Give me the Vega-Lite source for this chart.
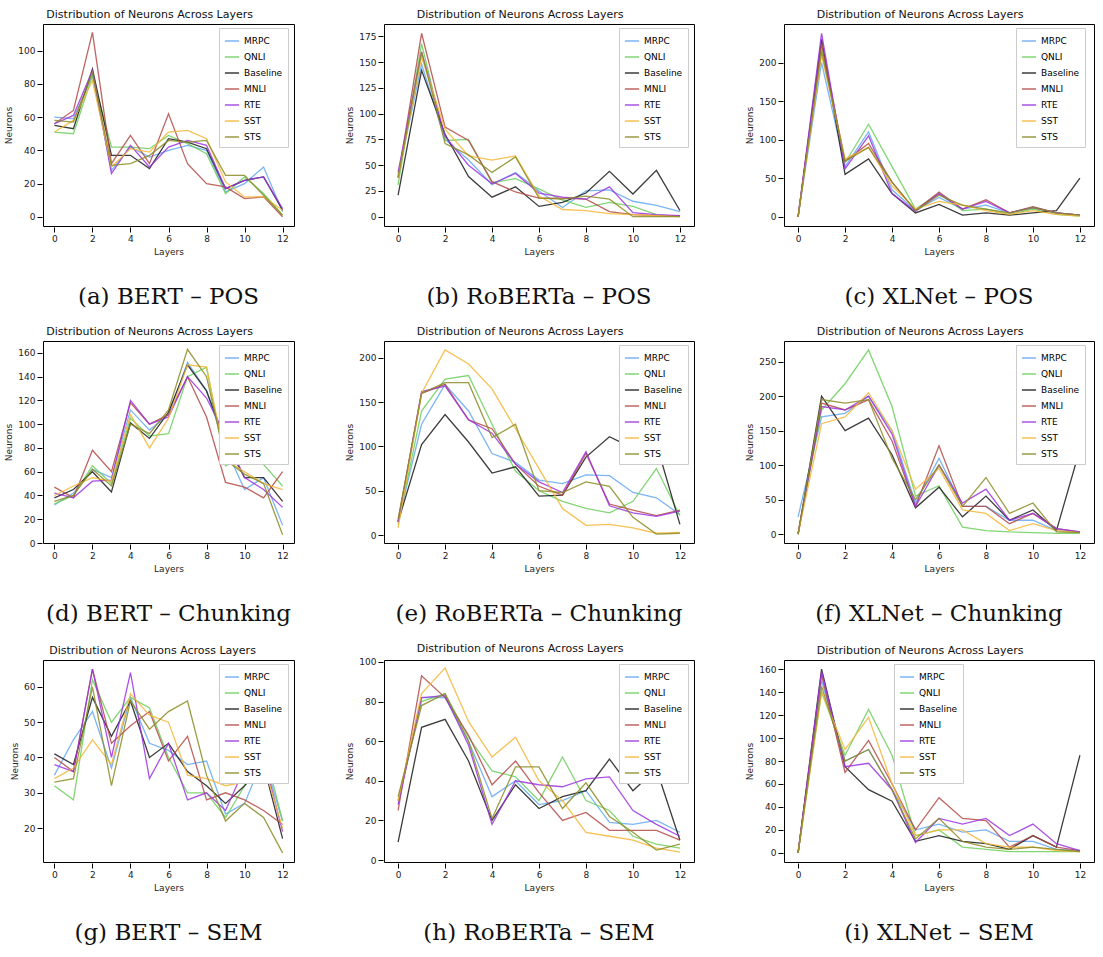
{"$schema":"https://vega.github.io/schema/vega-lite/v6.json","background":"white","padding":{"left":4,"top":8,"right":0,"bottom":0},
"config":{"font":"DejaVu Sans","view":{"stroke":"black","strokeWidth":1},"axis":{"grid":false,"labelFontSize":9,"titleFontSize":9,"titleFontWeight":"normal","domain":false,"tickColor":"black","labelColor":"#222","titleColor":"#222"},"title":{"fontSize":11,"fontWeight":"normal","color":"#111","offset":4,"anchor":"middle"},"legend":{"labelFontSize":9,"symbolType":"stroke","symbolSize":200,"strokeColor":"#ccc","padding":5,"fillColor":"white","rowPadding":3},"header":{"labelFont":"DejaVu Serif","labelFontSize":23,"labelColor":"#111"}},
"datasets":{"d":[
{"p":"a","s":"MRPC","x":0,"y":60},{"p":"a","s":"MRPC","x":1,"y":59},{"p":"a","s":"MRPC","x":2,"y":85},{"p":"a","s":"MRPC","x":3,"y":28},{"p":"a","s":"MRPC","x":4,"y":42},{"p":"a","s":"MRPC","x":5,"y":36},{"p":"a","s":"MRPC","x":6,"y":40},{"p":"a","s":"MRPC","x":7,"y":43},{"p":"a","s":"MRPC","x":8,"y":40},{"p":"a","s":"MRPC","x":9,"y":15},{"p":"a","s":"MRPC","x":10,"y":20},{"p":"a","s":"MRPC","x":11,"y":30},{"p":"a","s":"MRPC","x":12,"y":3},
{"p":"a","s":"QNLI","x":0,"y":51},{"p":"a","s":"QNLI","x":1,"y":50},{"p":"a","s":"QNLI","x":2,"y":85},{"p":"a","s":"QNLI","x":3,"y":42},{"p":"a","s":"QNLI","x":4,"y":42},{"p":"a","s":"QNLI","x":5,"y":41},{"p":"a","s":"QNLI","x":6,"y":49},{"p":"a","s":"QNLI","x":7,"y":44},{"p":"a","s":"QNLI","x":8,"y":38},{"p":"a","s":"QNLI","x":9,"y":14},{"p":"a","s":"QNLI","x":10,"y":24},{"p":"a","s":"QNLI","x":11,"y":14},{"p":"a","s":"QNLI","x":12,"y":1},
{"p":"a","s":"Baseline","x":0,"y":55},{"p":"a","s":"Baseline","x":1,"y":53},{"p":"a","s":"Baseline","x":2,"y":89},{"p":"a","s":"Baseline","x":3,"y":37},{"p":"a","s":"Baseline","x":4,"y":37},{"p":"a","s":"Baseline","x":5,"y":29},{"p":"a","s":"Baseline","x":6,"y":47},{"p":"a","s":"Baseline","x":7,"y":45},{"p":"a","s":"Baseline","x":8,"y":41},{"p":"a","s":"Baseline","x":9,"y":17},{"p":"a","s":"Baseline","x":10,"y":22},{"p":"a","s":"Baseline","x":11,"y":24},{"p":"a","s":"Baseline","x":12,"y":4},
{"p":"a","s":"MNLI","x":0,"y":56},{"p":"a","s":"MNLI","x":1,"y":64},{"p":"a","s":"MNLI","x":2,"y":111},{"p":"a","s":"MNLI","x":3,"y":32},{"p":"a","s":"MNLI","x":4,"y":49},{"p":"a","s":"MNLI","x":5,"y":32},{"p":"a","s":"MNLI","x":6,"y":62},{"p":"a","s":"MNLI","x":7,"y":32},{"p":"a","s":"MNLI","x":8,"y":20},{"p":"a","s":"MNLI","x":9,"y":18},{"p":"a","s":"MNLI","x":10,"y":11},{"p":"a","s":"MNLI","x":11,"y":12},{"p":"a","s":"MNLI","x":12,"y":0},
{"p":"a","s":"RTE","x":0,"y":56},{"p":"a","s":"RTE","x":1,"y":61},{"p":"a","s":"RTE","x":2,"y":88},{"p":"a","s":"RTE","x":3,"y":26},{"p":"a","s":"RTE","x":4,"y":43},{"p":"a","s":"RTE","x":5,"y":30},{"p":"a","s":"RTE","x":6,"y":42},{"p":"a","s":"RTE","x":7,"y":46},{"p":"a","s":"RTE","x":8,"y":43},{"p":"a","s":"RTE","x":9,"y":17},{"p":"a","s":"RTE","x":10,"y":22},{"p":"a","s":"RTE","x":11,"y":24},{"p":"a","s":"RTE","x":12,"y":5},
{"p":"a","s":"SST","x":0,"y":51},{"p":"a","s":"SST","x":1,"y":58},{"p":"a","s":"SST","x":2,"y":82},{"p":"a","s":"SST","x":3,"y":30},{"p":"a","s":"SST","x":4,"y":41},{"p":"a","s":"SST","x":5,"y":39},{"p":"a","s":"SST","x":6,"y":51},{"p":"a","s":"SST","x":7,"y":52},{"p":"a","s":"SST","x":8,"y":47},{"p":"a","s":"SST","x":9,"y":21},{"p":"a","s":"SST","x":10,"y":12},{"p":"a","s":"SST","x":11,"y":12},{"p":"a","s":"SST","x":12,"y":4},
{"p":"a","s":"STS","x":0,"y":58},{"p":"a","s":"STS","x":1,"y":57},{"p":"a","s":"STS","x":2,"y":87},{"p":"a","s":"STS","x":3,"y":31},{"p":"a","s":"STS","x":4,"y":32},{"p":"a","s":"STS","x":5,"y":37},{"p":"a","s":"STS","x":6,"y":46},{"p":"a","s":"STS","x":7,"y":45},{"p":"a","s":"STS","x":8,"y":46},{"p":"a","s":"STS","x":9,"y":25},{"p":"a","s":"STS","x":10,"y":25},{"p":"a","s":"STS","x":11,"y":13},{"p":"a","s":"STS","x":12,"y":1},
{"p":"b","s":"MRPC","x":0,"y":40},{"p":"b","s":"MRPC","x":1,"y":148},{"p":"b","s":"MRPC","x":2,"y":75},{"p":"b","s":"MRPC","x":3,"y":55},{"p":"b","s":"MRPC","x":4,"y":31},{"p":"b","s":"MRPC","x":5,"y":43},{"p":"b","s":"MRPC","x":6,"y":25},{"p":"b","s":"MRPC","x":7,"y":9},{"p":"b","s":"MRPC","x":8,"y":25},{"p":"b","s":"MRPC","x":9,"y":26},{"p":"b","s":"MRPC","x":10,"y":15},{"p":"b","s":"MRPC","x":11,"y":11},{"p":"b","s":"MRPC","x":12,"y":5},
{"p":"b","s":"QNLI","x":0,"y":31},{"p":"b","s":"QNLI","x":1,"y":168},{"p":"b","s":"QNLI","x":2,"y":74},{"p":"b","s":"QNLI","x":3,"y":75},{"p":"b","s":"QNLI","x":4,"y":33},{"p":"b","s":"QNLI","x":5,"y":37},{"p":"b","s":"QNLI","x":6,"y":27},{"p":"b","s":"QNLI","x":7,"y":16},{"p":"b","s":"QNLI","x":8,"y":9},{"p":"b","s":"QNLI","x":9,"y":14},{"p":"b","s":"QNLI","x":10,"y":10},{"p":"b","s":"QNLI","x":11,"y":2},{"p":"b","s":"QNLI","x":12,"y":0},
{"p":"b","s":"Baseline","x":0,"y":21},{"p":"b","s":"Baseline","x":1,"y":142},{"p":"b","s":"Baseline","x":2,"y":80},{"p":"b","s":"Baseline","x":3,"y":39},{"p":"b","s":"Baseline","x":4,"y":19},{"p":"b","s":"Baseline","x":5,"y":29},{"p":"b","s":"Baseline","x":6,"y":10},{"p":"b","s":"Baseline","x":7,"y":14},{"p":"b","s":"Baseline","x":8,"y":23},{"p":"b","s":"Baseline","x":9,"y":44},{"p":"b","s":"Baseline","x":10,"y":22},{"p":"b","s":"Baseline","x":11,"y":45},{"p":"b","s":"Baseline","x":12,"y":6},
{"p":"b","s":"MNLI","x":0,"y":38},{"p":"b","s":"MNLI","x":1,"y":178},{"p":"b","s":"MNLI","x":2,"y":87},{"p":"b","s":"MNLI","x":3,"y":74},{"p":"b","s":"MNLI","x":4,"y":34},{"p":"b","s":"MNLI","x":5,"y":24},{"p":"b","s":"MNLI","x":6,"y":18},{"p":"b","s":"MNLI","x":7,"y":18},{"p":"b","s":"MNLI","x":8,"y":17},{"p":"b","s":"MNLI","x":9,"y":5},{"p":"b","s":"MNLI","x":10,"y":2},{"p":"b","s":"MNLI","x":11,"y":1},{"p":"b","s":"MNLI","x":12,"y":1},
{"p":"b","s":"RTE","x":0,"y":43},{"p":"b","s":"RTE","x":1,"y":160},{"p":"b","s":"RTE","x":2,"y":78},{"p":"b","s":"RTE","x":3,"y":50},{"p":"b","s":"RTE","x":4,"y":32},{"p":"b","s":"RTE","x":5,"y":42},{"p":"b","s":"RTE","x":6,"y":23},{"p":"b","s":"RTE","x":7,"y":19},{"p":"b","s":"RTE","x":8,"y":17},{"p":"b","s":"RTE","x":9,"y":29},{"p":"b","s":"RTE","x":10,"y":4},{"p":"b","s":"RTE","x":11,"y":2},{"p":"b","s":"RTE","x":12,"y":1},
{"p":"b","s":"SST","x":0,"y":38},{"p":"b","s":"SST","x":1,"y":155},{"p":"b","s":"SST","x":2,"y":85},{"p":"b","s":"SST","x":3,"y":59},{"p":"b","s":"SST","x":4,"y":55},{"p":"b","s":"SST","x":5,"y":59},{"p":"b","s":"SST","x":6,"y":20},{"p":"b","s":"SST","x":7,"y":7},{"p":"b","s":"SST","x":8,"y":6},{"p":"b","s":"SST","x":9,"y":3},{"p":"b","s":"SST","x":10,"y":2},{"p":"b","s":"SST","x":11,"y":1},{"p":"b","s":"SST","x":12,"y":0},
{"p":"b","s":"STS","x":0,"y":38},{"p":"b","s":"STS","x":1,"y":160},{"p":"b","s":"STS","x":2,"y":71},{"p":"b","s":"STS","x":3,"y":60},{"p":"b","s":"STS","x":4,"y":43},{"p":"b","s":"STS","x":5,"y":58},{"p":"b","s":"STS","x":6,"y":18},{"p":"b","s":"STS","x":7,"y":17},{"p":"b","s":"STS","x":8,"y":20},{"p":"b","s":"STS","x":9,"y":17},{"p":"b","s":"STS","x":10,"y":0},{"p":"b","s":"STS","x":11,"y":0},{"p":"b","s":"STS","x":12,"y":0},
{"p":"c","s":"MRPC","x":0,"y":0},{"p":"c","s":"MRPC","x":1,"y":200},{"p":"c","s":"MRPC","x":2,"y":65},{"p":"c","s":"MRPC","x":3,"y":110},{"p":"c","s":"MRPC","x":4,"y":35},{"p":"c","s":"MRPC","x":5,"y":8},{"p":"c","s":"MRPC","x":6,"y":25},{"p":"c","s":"MRPC","x":7,"y":10},{"p":"c","s":"MRPC","x":8,"y":15},{"p":"c","s":"MRPC","x":9,"y":5},{"p":"c","s":"MRPC","x":10,"y":12},{"p":"c","s":"MRPC","x":11,"y":5},{"p":"c","s":"MRPC","x":12,"y":2},
{"p":"c","s":"QNLI","x":0,"y":0},{"p":"c","s":"QNLI","x":1,"y":220},{"p":"c","s":"QNLI","x":2,"y":70},{"p":"c","s":"QNLI","x":3,"y":120},{"p":"c","s":"QNLI","x":4,"y":65},{"p":"c","s":"QNLI","x":5,"y":10},{"p":"c","s":"QNLI","x":6,"y":30},{"p":"c","s":"QNLI","x":7,"y":8},{"p":"c","s":"QNLI","x":8,"y":10},{"p":"c","s":"QNLI","x":9,"y":3},{"p":"c","s":"QNLI","x":10,"y":10},{"p":"c","s":"QNLI","x":11,"y":3},{"p":"c","s":"QNLI","x":12,"y":1},
{"p":"c","s":"Baseline","x":0,"y":0},{"p":"c","s":"Baseline","x":1,"y":230},{"p":"c","s":"Baseline","x":2,"y":55},{"p":"c","s":"Baseline","x":3,"y":75},{"p":"c","s":"Baseline","x":4,"y":30},{"p":"c","s":"Baseline","x":5,"y":5},{"p":"c","s":"Baseline","x":6,"y":16},{"p":"c","s":"Baseline","x":7,"y":2},{"p":"c","s":"Baseline","x":8,"y":5},{"p":"c","s":"Baseline","x":9,"y":2},{"p":"c","s":"Baseline","x":10,"y":5},{"p":"c","s":"Baseline","x":11,"y":8},{"p":"c","s":"Baseline","x":12,"y":50},
{"p":"c","s":"MNLI","x":0,"y":0},{"p":"c","s":"MNLI","x":1,"y":225},{"p":"c","s":"MNLI","x":2,"y":72},{"p":"c","s":"MNLI","x":3,"y":95},{"p":"c","s":"MNLI","x":4,"y":45},{"p":"c","s":"MNLI","x":5,"y":8},{"p":"c","s":"MNLI","x":6,"y":32},{"p":"c","s":"MNLI","x":7,"y":10},{"p":"c","s":"MNLI","x":8,"y":22},{"p":"c","s":"MNLI","x":9,"y":5},{"p":"c","s":"MNLI","x":10,"y":13},{"p":"c","s":"MNLI","x":11,"y":5},{"p":"c","s":"MNLI","x":12,"y":2},
{"p":"c","s":"RTE","x":0,"y":0},{"p":"c","s":"RTE","x":1,"y":238},{"p":"c","s":"RTE","x":2,"y":62},{"p":"c","s":"RTE","x":3,"y":105},{"p":"c","s":"RTE","x":4,"y":30},{"p":"c","s":"RTE","x":5,"y":7},{"p":"c","s":"RTE","x":6,"y":30},{"p":"c","s":"RTE","x":7,"y":10},{"p":"c","s":"RTE","x":8,"y":20},{"p":"c","s":"RTE","x":9,"y":5},{"p":"c","s":"RTE","x":10,"y":12},{"p":"c","s":"RTE","x":11,"y":5},{"p":"c","s":"RTE","x":12,"y":2},
{"p":"c","s":"SST","x":0,"y":0},{"p":"c","s":"SST","x":1,"y":210},{"p":"c","s":"SST","x":2,"y":75},{"p":"c","s":"SST","x":3,"y":90},{"p":"c","s":"SST","x":4,"y":40},{"p":"c","s":"SST","x":5,"y":10},{"p":"c","s":"SST","x":6,"y":20},{"p":"c","s":"SST","x":7,"y":15},{"p":"c","s":"SST","x":8,"y":8},{"p":"c","s":"SST","x":9,"y":3},{"p":"c","s":"SST","x":10,"y":8},{"p":"c","s":"SST","x":11,"y":3},{"p":"c","s":"SST","x":12,"y":1},
{"p":"c","s":"STS","x":0,"y":0},{"p":"c","s":"STS","x":1,"y":215},{"p":"c","s":"STS","x":2,"y":72},{"p":"c","s":"STS","x":3,"y":90},{"p":"c","s":"STS","x":4,"y":45},{"p":"c","s":"STS","x":5,"y":8},{"p":"c","s":"STS","x":6,"y":28},{"p":"c","s":"STS","x":7,"y":15},{"p":"c","s":"STS","x":8,"y":10},{"p":"c","s":"STS","x":9,"y":5},{"p":"c","s":"STS","x":10,"y":12},{"p":"c","s":"STS","x":11,"y":5},{"p":"c","s":"STS","x":12,"y":2},
{"p":"d","s":"MRPC","x":0,"y":32},{"p":"d","s":"MRPC","x":1,"y":42},{"p":"d","s":"MRPC","x":2,"y":62},{"p":"d","s":"MRPC","x":3,"y":55},{"p":"d","s":"MRPC","x":4,"y":112},{"p":"d","s":"MRPC","x":5,"y":95},{"p":"d","s":"MRPC","x":6,"y":108},{"p":"d","s":"MRPC","x":7,"y":152},{"p":"d","s":"MRPC","x":8,"y":128},{"p":"d","s":"MRPC","x":9,"y":80},{"p":"d","s":"MRPC","x":10,"y":45},{"p":"d","s":"MRPC","x":11,"y":55},{"p":"d","s":"MRPC","x":12,"y":15},
{"p":"d","s":"QNLI","x":0,"y":33},{"p":"d","s":"QNLI","x":1,"y":40},{"p":"d","s":"QNLI","x":2,"y":65},{"p":"d","s":"QNLI","x":3,"y":50},{"p":"d","s":"QNLI","x":4,"y":105},{"p":"d","s":"QNLI","x":5,"y":90},{"p":"d","s":"QNLI","x":6,"y":92},{"p":"d","s":"QNLI","x":7,"y":140},{"p":"d","s":"QNLI","x":8,"y":148},{"p":"d","s":"QNLI","x":9,"y":65},{"p":"d","s":"QNLI","x":10,"y":72},{"p":"d","s":"QNLI","x":11,"y":66},{"p":"d","s":"QNLI","x":12,"y":48},
{"p":"d","s":"Baseline","x":0,"y":38},{"p":"d","s":"Baseline","x":1,"y":45},{"p":"d","s":"Baseline","x":2,"y":60},{"p":"d","s":"Baseline","x":3,"y":43},{"p":"d","s":"Baseline","x":4,"y":101},{"p":"d","s":"Baseline","x":5,"y":88},{"p":"d","s":"Baseline","x":6,"y":110},{"p":"d","s":"Baseline","x":7,"y":150},{"p":"d","s":"Baseline","x":8,"y":128},{"p":"d","s":"Baseline","x":9,"y":85},{"p":"d","s":"Baseline","x":10,"y":55},{"p":"d","s":"Baseline","x":11,"y":55},{"p":"d","s":"Baseline","x":12,"y":35},
{"p":"d","s":"MNLI","x":0,"y":47},{"p":"d","s":"MNLI","x":1,"y":38},{"p":"d","s":"MNLI","x":2,"y":78},{"p":"d","s":"MNLI","x":3,"y":60},{"p":"d","s":"MNLI","x":4,"y":118},{"p":"d","s":"MNLI","x":5,"y":100},{"p":"d","s":"MNLI","x":6,"y":108},{"p":"d","s":"MNLI","x":7,"y":140},{"p":"d","s":"MNLI","x":8,"y":106},{"p":"d","s":"MNLI","x":9,"y":51},{"p":"d","s":"MNLI","x":10,"y":47},{"p":"d","s":"MNLI","x":11,"y":38},{"p":"d","s":"MNLI","x":12,"y":60},
{"p":"d","s":"RTE","x":0,"y":42},{"p":"d","s":"RTE","x":1,"y":38},{"p":"d","s":"RTE","x":2,"y":52},{"p":"d","s":"RTE","x":3,"y":53},{"p":"d","s":"RTE","x":4,"y":120},{"p":"d","s":"RTE","x":5,"y":100},{"p":"d","s":"RTE","x":6,"y":106},{"p":"d","s":"RTE","x":7,"y":140},{"p":"d","s":"RTE","x":8,"y":122},{"p":"d","s":"RTE","x":9,"y":90},{"p":"d","s":"RTE","x":10,"y":55},{"p":"d","s":"RTE","x":11,"y":45},{"p":"d","s":"RTE","x":12,"y":30},
{"p":"d","s":"SST","x":0,"y":40},{"p":"d","s":"SST","x":1,"y":48},{"p":"d","s":"SST","x":2,"y":55},{"p":"d","s":"SST","x":3,"y":52},{"p":"d","s":"SST","x":4,"y":108},{"p":"d","s":"SST","x":5,"y":80},{"p":"d","s":"SST","x":6,"y":105},{"p":"d","s":"SST","x":7,"y":150},{"p":"d","s":"SST","x":8,"y":148},{"p":"d","s":"SST","x":9,"y":70},{"p":"d","s":"SST","x":10,"y":60},{"p":"d","s":"SST","x":11,"y":50},{"p":"d","s":"SST","x":12,"y":45},
{"p":"d","s":"STS","x":0,"y":35},{"p":"d","s":"STS","x":1,"y":40},{"p":"d","s":"STS","x":2,"y":62},{"p":"d","s":"STS","x":3,"y":48},{"p":"d","s":"STS","x":4,"y":100},{"p":"d","s":"STS","x":5,"y":92},{"p":"d","s":"STS","x":6,"y":112},{"p":"d","s":"STS","x":7,"y":163},{"p":"d","s":"STS","x":8,"y":140},{"p":"d","s":"STS","x":9,"y":70},{"p":"d","s":"STS","x":10,"y":58},{"p":"d","s":"STS","x":11,"y":50},{"p":"d","s":"STS","x":12,"y":7},
{"p":"e","s":"MRPC","x":0,"y":15},{"p":"e","s":"MRPC","x":1,"y":125},{"p":"e","s":"MRPC","x":2,"y":170},{"p":"e","s":"MRPC","x":3,"y":140},{"p":"e","s":"MRPC","x":4,"y":92},{"p":"e","s":"MRPC","x":5,"y":82},{"p":"e","s":"MRPC","x":6,"y":62},{"p":"e","s":"MRPC","x":7,"y":58},{"p":"e","s":"MRPC","x":8,"y":68},{"p":"e","s":"MRPC","x":9,"y":67},{"p":"e","s":"MRPC","x":10,"y":48},{"p":"e","s":"MRPC","x":11,"y":42},{"p":"e","s":"MRPC","x":12,"y":23},
{"p":"e","s":"QNLI","x":0,"y":12},{"p":"e","s":"QNLI","x":1,"y":140},{"p":"e","s":"QNLI","x":2,"y":176},{"p":"e","s":"QNLI","x":3,"y":180},{"p":"e","s":"QNLI","x":4,"y":125},{"p":"e","s":"QNLI","x":5,"y":72},{"p":"e","s":"QNLI","x":6,"y":50},{"p":"e","s":"QNLI","x":7,"y":38},{"p":"e","s":"QNLI","x":8,"y":30},{"p":"e","s":"QNLI","x":9,"y":25},{"p":"e","s":"QNLI","x":10,"y":38},{"p":"e","s":"QNLI","x":11,"y":75},{"p":"e","s":"QNLI","x":12,"y":22},
{"p":"e","s":"Baseline","x":0,"y":15},{"p":"e","s":"Baseline","x":1,"y":102},{"p":"e","s":"Baseline","x":2,"y":136},{"p":"e","s":"Baseline","x":3,"y":105},{"p":"e","s":"Baseline","x":4,"y":70},{"p":"e","s":"Baseline","x":5,"y":77},{"p":"e","s":"Baseline","x":6,"y":44},{"p":"e","s":"Baseline","x":7,"y":45},{"p":"e","s":"Baseline","x":8,"y":88},{"p":"e","s":"Baseline","x":9,"y":111},{"p":"e","s":"Baseline","x":10,"y":98},{"p":"e","s":"Baseline","x":11,"y":103},{"p":"e","s":"Baseline","x":12,"y":12},
{"p":"e","s":"MNLI","x":0,"y":15},{"p":"e","s":"MNLI","x":1,"y":160},{"p":"e","s":"MNLI","x":2,"y":170},{"p":"e","s":"MNLI","x":3,"y":130},{"p":"e","s":"MNLI","x":4,"y":120},{"p":"e","s":"MNLI","x":5,"y":80},{"p":"e","s":"MNLI","x":6,"y":55},{"p":"e","s":"MNLI","x":7,"y":45},{"p":"e","s":"MNLI","x":8,"y":92},{"p":"e","s":"MNLI","x":9,"y":35},{"p":"e","s":"MNLI","x":10,"y":28},{"p":"e","s":"MNLI","x":11,"y":22},{"p":"e","s":"MNLI","x":12,"y":28},
{"p":"e","s":"RTE","x":0,"y":15},{"p":"e","s":"RTE","x":1,"y":162},{"p":"e","s":"RTE","x":2,"y":168},{"p":"e","s":"RTE","x":3,"y":130},{"p":"e","s":"RTE","x":4,"y":115},{"p":"e","s":"RTE","x":5,"y":80},{"p":"e","s":"RTE","x":6,"y":60},{"p":"e","s":"RTE","x":7,"y":48},{"p":"e","s":"RTE","x":8,"y":94},{"p":"e","s":"RTE","x":9,"y":33},{"p":"e","s":"RTE","x":10,"y":25},{"p":"e","s":"RTE","x":11,"y":21},{"p":"e","s":"RTE","x":12,"y":27},
{"p":"e","s":"SST","x":0,"y":8},{"p":"e","s":"SST","x":1,"y":160},{"p":"e","s":"SST","x":2,"y":209},{"p":"e","s":"SST","x":3,"y":193},{"p":"e","s":"SST","x":4,"y":165},{"p":"e","s":"SST","x":5,"y":120},{"p":"e","s":"SST","x":6,"y":75},{"p":"e","s":"SST","x":7,"y":30},{"p":"e","s":"SST","x":8,"y":11},{"p":"e","s":"SST","x":9,"y":12},{"p":"e","s":"SST","x":10,"y":8},{"p":"e","s":"SST","x":11,"y":2},{"p":"e","s":"SST","x":12,"y":3},
{"p":"e","s":"STS","x":0,"y":18},{"p":"e","s":"STS","x":1,"y":160},{"p":"e","s":"STS","x":2,"y":172},{"p":"e","s":"STS","x":3,"y":172},{"p":"e","s":"STS","x":4,"y":110},{"p":"e","s":"STS","x":5,"y":125},{"p":"e","s":"STS","x":6,"y":50},{"p":"e","s":"STS","x":7,"y":48},{"p":"e","s":"STS","x":8,"y":60},{"p":"e","s":"STS","x":9,"y":55},{"p":"e","s":"STS","x":10,"y":20},{"p":"e","s":"STS","x":11,"y":1},{"p":"e","s":"STS","x":12,"y":2},
{"p":"f","s":"MRPC","x":0,"y":25},{"p":"f","s":"MRPC","x":1,"y":170},{"p":"f","s":"MRPC","x":2,"y":175},{"p":"f","s":"MRPC","x":3,"y":200},{"p":"f","s":"MRPC","x":4,"y":150},{"p":"f","s":"MRPC","x":5,"y":45},{"p":"f","s":"MRPC","x":6,"y":110},{"p":"f","s":"MRPC","x":7,"y":40},{"p":"f","s":"MRPC","x":8,"y":40},{"p":"f","s":"MRPC","x":9,"y":20},{"p":"f","s":"MRPC","x":10,"y":20},{"p":"f","s":"MRPC","x":11,"y":5},{"p":"f","s":"MRPC","x":12,"y":3},
{"p":"f","s":"QNLI","x":0,"y":0},{"p":"f","s":"QNLI","x":1,"y":180},{"p":"f","s":"QNLI","x":2,"y":218},{"p":"f","s":"QNLI","x":3,"y":267},{"p":"f","s":"QNLI","x":4,"y":185},{"p":"f","s":"QNLI","x":5,"y":55},{"p":"f","s":"QNLI","x":6,"y":70},{"p":"f","s":"QNLI","x":7,"y":10},{"p":"f","s":"QNLI","x":8,"y":5},{"p":"f","s":"QNLI","x":9,"y":3},{"p":"f","s":"QNLI","x":10,"y":2},{"p":"f","s":"QNLI","x":11,"y":1},{"p":"f","s":"QNLI","x":12,"y":1},
{"p":"f","s":"Baseline","x":0,"y":0},{"p":"f","s":"Baseline","x":1,"y":200},{"p":"f","s":"Baseline","x":2,"y":150},{"p":"f","s":"Baseline","x":3,"y":168},{"p":"f","s":"Baseline","x":4,"y":115},{"p":"f","s":"Baseline","x":5,"y":38},{"p":"f","s":"Baseline","x":6,"y":68},{"p":"f","s":"Baseline","x":7,"y":25},{"p":"f","s":"Baseline","x":8,"y":55},{"p":"f","s":"Baseline","x":9,"y":20},{"p":"f","s":"Baseline","x":10,"y":35},{"p":"f","s":"Baseline","x":11,"y":5},{"p":"f","s":"Baseline","x":12,"y":123},
{"p":"f","s":"MNLI","x":0,"y":0},{"p":"f","s":"MNLI","x":1,"y":190},{"p":"f","s":"MNLI","x":2,"y":180},{"p":"f","s":"MNLI","x":3,"y":195},{"p":"f","s":"MNLI","x":4,"y":135},{"p":"f","s":"MNLI","x":5,"y":40},{"p":"f","s":"MNLI","x":6,"y":128},{"p":"f","s":"MNLI","x":7,"y":40},{"p":"f","s":"MNLI","x":8,"y":40},{"p":"f","s":"MNLI","x":9,"y":15},{"p":"f","s":"MNLI","x":10,"y":30},{"p":"f","s":"MNLI","x":11,"y":8},{"p":"f","s":"MNLI","x":12,"y":3},
{"p":"f","s":"RTE","x":0,"y":0},{"p":"f","s":"RTE","x":1,"y":185},{"p":"f","s":"RTE","x":2,"y":180},{"p":"f","s":"RTE","x":3,"y":200},{"p":"f","s":"RTE","x":4,"y":145},{"p":"f","s":"RTE","x":5,"y":40},{"p":"f","s":"RTE","x":6,"y":100},{"p":"f","s":"RTE","x":7,"y":45},{"p":"f","s":"RTE","x":8,"y":65},{"p":"f","s":"RTE","x":9,"y":20},{"p":"f","s":"RTE","x":10,"y":30},{"p":"f","s":"RTE","x":11,"y":8},{"p":"f","s":"RTE","x":12,"y":3},
{"p":"f","s":"SST","x":0,"y":0},{"p":"f","s":"SST","x":1,"y":160},{"p":"f","s":"SST","x":2,"y":170},{"p":"f","s":"SST","x":3,"y":205},{"p":"f","s":"SST","x":4,"y":150},{"p":"f","s":"SST","x":5,"y":65},{"p":"f","s":"SST","x":6,"y":95},{"p":"f","s":"SST","x":7,"y":35},{"p":"f","s":"SST","x":8,"y":30},{"p":"f","s":"SST","x":9,"y":5},{"p":"f","s":"SST","x":10,"y":15},{"p":"f","s":"SST","x":11,"y":5},{"p":"f","s":"SST","x":12,"y":2},
{"p":"f","s":"STS","x":0,"y":0},{"p":"f","s":"STS","x":1,"y":195},{"p":"f","s":"STS","x":2,"y":190},{"p":"f","s":"STS","x":3,"y":195},{"p":"f","s":"STS","x":4,"y":110},{"p":"f","s":"STS","x":5,"y":50},{"p":"f","s":"STS","x":6,"y":100},{"p":"f","s":"STS","x":7,"y":40},{"p":"f","s":"STS","x":8,"y":82},{"p":"f","s":"STS","x":9,"y":30},{"p":"f","s":"STS","x":10,"y":45},{"p":"f","s":"STS","x":11,"y":3},{"p":"f","s":"STS","x":12,"y":2},
{"p":"g","s":"MRPC","x":0,"y":35},{"p":"g","s":"MRPC","x":1,"y":45},{"p":"g","s":"MRPC","x":2,"y":53},{"p":"g","s":"MRPC","x":3,"y":37},{"p":"g","s":"MRPC","x":4,"y":57},{"p":"g","s":"MRPC","x":5,"y":44},{"p":"g","s":"MRPC","x":6,"y":42},{"p":"g","s":"MRPC","x":7,"y":38},{"p":"g","s":"MRPC","x":8,"y":39},{"p":"g","s":"MRPC","x":9,"y":24},{"p":"g","s":"MRPC","x":10,"y":27},{"p":"g","s":"MRPC","x":11,"y":40},{"p":"g","s":"MRPC","x":12,"y":22},
{"p":"g","s":"QNLI","x":0,"y":32},{"p":"g","s":"QNLI","x":1,"y":28},{"p":"g","s":"QNLI","x":2,"y":62},{"p":"g","s":"QNLI","x":3,"y":50},{"p":"g","s":"QNLI","x":4,"y":57},{"p":"g","s":"QNLI","x":5,"y":54},{"p":"g","s":"QNLI","x":6,"y":40},{"p":"g","s":"QNLI","x":7,"y":30},{"p":"g","s":"QNLI","x":8,"y":30},{"p":"g","s":"QNLI","x":9,"y":23},{"p":"g","s":"QNLI","x":10,"y":32},{"p":"g","s":"QNLI","x":11,"y":43},{"p":"g","s":"QNLI","x":12,"y":22},
{"p":"g","s":"Baseline","x":0,"y":41},{"p":"g","s":"Baseline","x":1,"y":38},{"p":"g","s":"Baseline","x":2,"y":57},{"p":"g","s":"Baseline","x":3,"y":46},{"p":"g","s":"Baseline","x":4,"y":56},{"p":"g","s":"Baseline","x":5,"y":40},{"p":"g","s":"Baseline","x":6,"y":44},{"p":"g","s":"Baseline","x":7,"y":36},{"p":"g","s":"Baseline","x":8,"y":32},{"p":"g","s":"Baseline","x":9,"y":27},{"p":"g","s":"Baseline","x":10,"y":32},{"p":"g","s":"Baseline","x":11,"y":38},{"p":"g","s":"Baseline","x":12,"y":17},
{"p":"g","s":"MNLI","x":0,"y":40},{"p":"g","s":"MNLI","x":1,"y":36},{"p":"g","s":"MNLI","x":2,"y":65},{"p":"g","s":"MNLI","x":3,"y":44},{"p":"g","s":"MNLI","x":4,"y":49},{"p":"g","s":"MNLI","x":5,"y":53},{"p":"g","s":"MNLI","x":6,"y":39},{"p":"g","s":"MNLI","x":7,"y":46},{"p":"g","s":"MNLI","x":8,"y":28},{"p":"g","s":"MNLI","x":9,"y":30},{"p":"g","s":"MNLI","x":10,"y":28},{"p":"g","s":"MNLI","x":11,"y":25},{"p":"g","s":"MNLI","x":12,"y":21},
{"p":"g","s":"RTE","x":0,"y":38},{"p":"g","s":"RTE","x":1,"y":36},{"p":"g","s":"RTE","x":2,"y":65},{"p":"g","s":"RTE","x":3,"y":40},{"p":"g","s":"RTE","x":4,"y":64},{"p":"g","s":"RTE","x":5,"y":34},{"p":"g","s":"RTE","x":6,"y":44},{"p":"g","s":"RTE","x":7,"y":28},{"p":"g","s":"RTE","x":8,"y":30},{"p":"g","s":"RTE","x":9,"y":25},{"p":"g","s":"RTE","x":10,"y":37},{"p":"g","s":"RTE","x":11,"y":40},{"p":"g","s":"RTE","x":12,"y":19},
{"p":"g","s":"SST","x":0,"y":34},{"p":"g","s":"SST","x":1,"y":37},{"p":"g","s":"SST","x":2,"y":45},{"p":"g","s":"SST","x":3,"y":38},{"p":"g","s":"SST","x":4,"y":58},{"p":"g","s":"SST","x":5,"y":52},{"p":"g","s":"SST","x":6,"y":50},{"p":"g","s":"SST","x":7,"y":35},{"p":"g","s":"SST","x":8,"y":34},{"p":"g","s":"SST","x":9,"y":32},{"p":"g","s":"SST","x":10,"y":33},{"p":"g","s":"SST","x":11,"y":38},{"p":"g","s":"SST","x":12,"y":20},
{"p":"g","s":"STS","x":0,"y":33},{"p":"g","s":"STS","x":1,"y":34},{"p":"g","s":"STS","x":2,"y":60},{"p":"g","s":"STS","x":3,"y":32},{"p":"g","s":"STS","x":4,"y":56},{"p":"g","s":"STS","x":5,"y":48},{"p":"g","s":"STS","x":6,"y":53},{"p":"g","s":"STS","x":7,"y":56},{"p":"g","s":"STS","x":8,"y":35},{"p":"g","s":"STS","x":9,"y":22},{"p":"g","s":"STS","x":10,"y":27},{"p":"g","s":"STS","x":11,"y":23},{"p":"g","s":"STS","x":12,"y":13},
{"p":"h","s":"MRPC","x":0,"y":30},{"p":"h","s":"MRPC","x":1,"y":82},{"p":"h","s":"MRPC","x":2,"y":82},{"p":"h","s":"MRPC","x":3,"y":60},{"p":"h","s":"MRPC","x":4,"y":32},{"p":"h","s":"MRPC","x":5,"y":40},{"p":"h","s":"MRPC","x":6,"y":28},{"p":"h","s":"MRPC","x":7,"y":30},{"p":"h","s":"MRPC","x":8,"y":35},{"p":"h","s":"MRPC","x":9,"y":19},{"p":"h","s":"MRPC","x":10,"y":18},{"p":"h","s":"MRPC","x":11,"y":20},{"p":"h","s":"MRPC","x":12,"y":14},
{"p":"h","s":"QNLI","x":0,"y":30},{"p":"h","s":"QNLI","x":1,"y":80},{"p":"h","s":"QNLI","x":2,"y":84},{"p":"h","s":"QNLI","x":3,"y":62},{"p":"h","s":"QNLI","x":4,"y":45},{"p":"h","s":"QNLI","x":5,"y":42},{"p":"h","s":"QNLI","x":6,"y":30},{"p":"h","s":"QNLI","x":7,"y":52},{"p":"h","s":"QNLI","x":8,"y":30},{"p":"h","s":"QNLI","x":9,"y":25},{"p":"h","s":"QNLI","x":10,"y":12},{"p":"h","s":"QNLI","x":11,"y":8},{"p":"h","s":"QNLI","x":12,"y":6},
{"p":"h","s":"Baseline","x":0,"y":9},{"p":"h","s":"Baseline","x":1,"y":67},{"p":"h","s":"Baseline","x":2,"y":71},{"p":"h","s":"Baseline","x":3,"y":50},{"p":"h","s":"Baseline","x":4,"y":20},{"p":"h","s":"Baseline","x":5,"y":38},{"p":"h","s":"Baseline","x":6,"y":26},{"p":"h","s":"Baseline","x":7,"y":32},{"p":"h","s":"Baseline","x":8,"y":35},{"p":"h","s":"Baseline","x":9,"y":51},{"p":"h","s":"Baseline","x":10,"y":35},{"p":"h","s":"Baseline","x":11,"y":46},{"p":"h","s":"Baseline","x":12,"y":10},
{"p":"h","s":"MNLI","x":0,"y":25},{"p":"h","s":"MNLI","x":1,"y":93},{"p":"h","s":"MNLI","x":2,"y":82},{"p":"h","s":"MNLI","x":3,"y":63},{"p":"h","s":"MNLI","x":4,"y":38},{"p":"h","s":"MNLI","x":5,"y":50},{"p":"h","s":"MNLI","x":6,"y":34},{"p":"h","s":"MNLI","x":7,"y":20},{"p":"h","s":"MNLI","x":8,"y":24},{"p":"h","s":"MNLI","x":9,"y":15},{"p":"h","s":"MNLI","x":10,"y":15},{"p":"h","s":"MNLI","x":11,"y":15},{"p":"h","s":"MNLI","x":12,"y":10},
{"p":"h","s":"RTE","x":0,"y":28},{"p":"h","s":"RTE","x":1,"y":82},{"p":"h","s":"RTE","x":2,"y":83},{"p":"h","s":"RTE","x":3,"y":58},{"p":"h","s":"RTE","x":4,"y":18},{"p":"h","s":"RTE","x":5,"y":40},{"p":"h","s":"RTE","x":6,"y":38},{"p":"h","s":"RTE","x":7,"y":37},{"p":"h","s":"RTE","x":8,"y":41},{"p":"h","s":"RTE","x":9,"y":42},{"p":"h","s":"RTE","x":10,"y":25},{"p":"h","s":"RTE","x":11,"y":18},{"p":"h","s":"RTE","x":12,"y":12},
{"p":"h","s":"SST","x":0,"y":30},{"p":"h","s":"SST","x":1,"y":84},{"p":"h","s":"SST","x":2,"y":97},{"p":"h","s":"SST","x":3,"y":70},{"p":"h","s":"SST","x":4,"y":52},{"p":"h","s":"SST","x":5,"y":62},{"p":"h","s":"SST","x":6,"y":40},{"p":"h","s":"SST","x":7,"y":30},{"p":"h","s":"SST","x":8,"y":14},{"p":"h","s":"SST","x":9,"y":12},{"p":"h","s":"SST","x":10,"y":10},{"p":"h","s":"SST","x":11,"y":6},{"p":"h","s":"SST","x":12,"y":4},
{"p":"h","s":"STS","x":0,"y":32},{"p":"h","s":"STS","x":1,"y":78},{"p":"h","s":"STS","x":2,"y":84},{"p":"h","s":"STS","x":3,"y":60},{"p":"h","s":"STS","x":4,"y":21},{"p":"h","s":"STS","x":5,"y":47},{"p":"h","s":"STS","x":6,"y":47},{"p":"h","s":"STS","x":7,"y":26},{"p":"h","s":"STS","x":8,"y":39},{"p":"h","s":"STS","x":9,"y":22},{"p":"h","s":"STS","x":10,"y":14},{"p":"h","s":"STS","x":11,"y":5},{"p":"h","s":"STS","x":12,"y":8},
{"p":"i","s":"MRPC","x":0,"y":0},{"p":"i","s":"MRPC","x":1,"y":150},{"p":"i","s":"MRPC","x":2,"y":80},{"p":"i","s":"MRPC","x":3,"y":90},{"p":"i","s":"MRPC","x":4,"y":55},{"p":"i","s":"MRPC","x":5,"y":20},{"p":"i","s":"MRPC","x":6,"y":25},{"p":"i","s":"MRPC","x":7,"y":18},{"p":"i","s":"MRPC","x":8,"y":20},{"p":"i","s":"MRPC","x":9,"y":10},{"p":"i","s":"MRPC","x":10,"y":10},{"p":"i","s":"MRPC","x":11,"y":3},{"p":"i","s":"MRPC","x":12,"y":2},
{"p":"i","s":"QNLI","x":0,"y":0},{"p":"i","s":"QNLI","x":1,"y":140},{"p":"i","s":"QNLI","x":2,"y":85},{"p":"i","s":"QNLI","x":3,"y":125},{"p":"i","s":"QNLI","x":4,"y":85},{"p":"i","s":"QNLI","x":5,"y":15},{"p":"i","s":"QNLI","x":6,"y":20},{"p":"i","s":"QNLI","x":7,"y":5},{"p":"i","s":"QNLI","x":8,"y":3},{"p":"i","s":"QNLI","x":9,"y":1},{"p":"i","s":"QNLI","x":10,"y":1},{"p":"i","s":"QNLI","x":11,"y":1},{"p":"i","s":"QNLI","x":12,"y":1},
{"p":"i","s":"Baseline","x":0,"y":0},{"p":"i","s":"Baseline","x":1,"y":160},{"p":"i","s":"Baseline","x":2,"y":75},{"p":"i","s":"Baseline","x":3,"y":55},{"p":"i","s":"Baseline","x":4,"y":45},{"p":"i","s":"Baseline","x":5,"y":10},{"p":"i","s":"Baseline","x":6,"y":15},{"p":"i","s":"Baseline","x":7,"y":10},{"p":"i","s":"Baseline","x":8,"y":8},{"p":"i","s":"Baseline","x":9,"y":3},{"p":"i","s":"Baseline","x":10,"y":15},{"p":"i","s":"Baseline","x":11,"y":5},{"p":"i","s":"Baseline","x":12,"y":85},
{"p":"i","s":"MNLI","x":0,"y":0},{"p":"i","s":"MNLI","x":1,"y":155},{"p":"i","s":"MNLI","x":2,"y":70},{"p":"i","s":"MNLI","x":3,"y":98},{"p":"i","s":"MNLI","x":4,"y":60},{"p":"i","s":"MNLI","x":5,"y":20},{"p":"i","s":"MNLI","x":6,"y":48},{"p":"i","s":"MNLI","x":7,"y":30},{"p":"i","s":"MNLI","x":8,"y":28},{"p":"i","s":"MNLI","x":9,"y":5},{"p":"i","s":"MNLI","x":10,"y":15},{"p":"i","s":"MNLI","x":11,"y":5},{"p":"i","s":"MNLI","x":12,"y":2},
{"p":"i","s":"RTE","x":0,"y":0},{"p":"i","s":"RTE","x":1,"y":158},{"p":"i","s":"RTE","x":2,"y":75},{"p":"i","s":"RTE","x":3,"y":78},{"p":"i","s":"RTE","x":4,"y":55},{"p":"i","s":"RTE","x":5,"y":9},{"p":"i","s":"RTE","x":6,"y":30},{"p":"i","s":"RTE","x":7,"y":25},{"p":"i","s":"RTE","x":8,"y":30},{"p":"i","s":"RTE","x":9,"y":15},{"p":"i","s":"RTE","x":10,"y":25},{"p":"i","s":"RTE","x":11,"y":8},{"p":"i","s":"RTE","x":12,"y":2},
{"p":"i","s":"SST","x":0,"y":0},{"p":"i","s":"SST","x":1,"y":140},{"p":"i","s":"SST","x":2,"y":90},{"p":"i","s":"SST","x":3,"y":118},{"p":"i","s":"SST","x":4,"y":60},{"p":"i","s":"SST","x":5,"y":15},{"p":"i","s":"SST","x":6,"y":20},{"p":"i","s":"SST","x":7,"y":20},{"p":"i","s":"SST","x":8,"y":8},{"p":"i","s":"SST","x":9,"y":5},{"p":"i","s":"SST","x":10,"y":5},{"p":"i","s":"SST","x":11,"y":2},{"p":"i","s":"SST","x":12,"y":1},
{"p":"i","s":"STS","x":0,"y":0},{"p":"i","s":"STS","x":1,"y":145},{"p":"i","s":"STS","x":2,"y":80},{"p":"i","s":"STS","x":3,"y":90},{"p":"i","s":"STS","x":4,"y":55},{"p":"i","s":"STS","x":5,"y":12},{"p":"i","s":"STS","x":6,"y":30},{"p":"i","s":"STS","x":7,"y":10},{"p":"i","s":"STS","x":8,"y":5},{"p":"i","s":"STS","x":9,"y":3},{"p":"i","s":"STS","x":10,"y":5},{"p":"i","s":"STS","x":11,"y":3},{"p":"i","s":"STS","x":12,"y":1}
]},
"columns":3,"spacing":{"row":16,"column":50},
"resolve":{"scale":{"y":"independent","x":"independent","color":"independent"},"legend":{"color":"independent"}},
"concat":[
{"data":{"name":"d"},"transform":[{"filter":"datum.p=='a'"}],"title":"Distribution of Neurons Across Layers","facet":{"column":{"field":"p","title":null,"header":{"labelOrient":"bottom","labelPadding":30,"labelExpr":"'(a) BERT – POS'"}}},"spec":{"width":251,"height":202,"mark":{"type":"line","strokeWidth":1.3,"opacity":0.85},"encoding":{"x":{"field":"x","type":"quantitative","title":"Layers","scale":{"domain":[-0.6,12.6],"nice":false,"zero":false},"axis":{"values":[0,2,4,6,8,10,12]}},"y":{"field":"y","type":"quantitative","title":"Neurons","scale":{"domain":[-5.5,116],"nice":false},"axis":{"values":[0,20,40,60,80,100]}},"color":{"field":"s","type":"nominal","scale":{"domain":["MRPC","QNLI","Baseline","MNLI","RTE","SST","STS"],"range":["#64a8f5","#6ccf5c","#1a1a1a","#b34a47","#9b33e0","#f4b637","#8b8b23"]},"legend":{"orient":"none","legendX":176,"legendY":4,"title":null}}}}},
{"data":{"name":"d"},"transform":[{"filter":"datum.p=='b'"}],"title":"Distribution of Neurons Across Layers","facet":{"column":{"field":"p","title":null,"header":{"labelOrient":"bottom","labelPadding":30,"labelExpr":"'(b) RoBERTa – POS'"}}},"spec":{"width":310,"height":202,"mark":{"type":"line","strokeWidth":1.3,"opacity":0.85},"encoding":{"x":{"field":"x","type":"quantitative","title":"Layers","scale":{"domain":[-0.6,12.6],"nice":false,"zero":false},"axis":{"values":[0,2,4,6,8,10,12]}},"y":{"field":"y","type":"quantitative","title":"Neurons","scale":{"domain":[-9,187],"nice":false},"axis":{"values":[0,25,50,75,100,125,150,175]}},"color":{"field":"s","type":"nominal","scale":{"domain":["MRPC","QNLI","Baseline","MNLI","RTE","SST","STS"],"range":["#64a8f5","#6ccf5c","#1a1a1a","#b34a47","#9b33e0","#f4b637","#8b8b23"]},"legend":{"orient":"none","legendX":235,"legendY":4,"title":null}}}}},
{"data":{"name":"d"},"transform":[{"filter":"datum.p=='c'"}],"title":"Distribution of Neurons Across Layers","facet":{"column":{"field":"p","title":null,"header":{"labelOrient":"bottom","labelPadding":30,"labelExpr":"'(c) XLNet – POS'"}}},"spec":{"width":310,"height":202,"mark":{"type":"line","strokeWidth":1.3,"opacity":0.85},"encoding":{"x":{"field":"x","type":"quantitative","title":"Layers","scale":{"domain":[-0.6,12.6],"nice":false,"zero":false},"axis":{"values":[0,2,4,6,8,10,12]}},"y":{"field":"y","type":"quantitative","title":"Neurons","scale":{"domain":[-12,250],"nice":false},"axis":{"values":[0,50,100,150,200]}},"color":{"field":"s","type":"nominal","scale":{"domain":["MRPC","QNLI","Baseline","MNLI","RTE","SST","STS"],"range":["#64a8f5","#6ccf5c","#1a1a1a","#b34a47","#9b33e0","#f4b637","#8b8b23"]},"legend":{"orient":"none","legendX":232,"legendY":4,"title":null}}}}},
{"data":{"name":"d"},"transform":[{"filter":"datum.p=='d'"}],"title":"Distribution of Neurons Across Layers","facet":{"column":{"field":"p","title":null,"header":{"labelOrient":"bottom","labelPadding":30,"labelExpr":"'(d) BERT – Chunking'"}}},"spec":{"width":251,"height":202,"mark":{"type":"line","strokeWidth":1.3,"opacity":0.85},"encoding":{"x":{"field":"x","type":"quantitative","title":"Layers","scale":{"domain":[-0.6,12.6],"nice":false,"zero":false},"axis":{"values":[0,2,4,6,8,10,12]}},"y":{"field":"y","type":"quantitative","title":"Neurons","scale":{"domain":[0,170],"nice":false},"axis":{"values":[0,20,40,60,80,100,120,140,160]}},"color":{"field":"s","type":"nominal","scale":{"domain":["MRPC","QNLI","Baseline","MNLI","RTE","SST","STS"],"range":["#64a8f5","#6ccf5c","#1a1a1a","#b34a47","#9b33e0","#f4b637","#8b8b23"]},"legend":{"orient":"none","legendX":176,"legendY":4,"title":null}}}}},
{"data":{"name":"d"},"transform":[{"filter":"datum.p=='e'"}],"title":"Distribution of Neurons Across Layers","facet":{"column":{"field":"p","title":null,"header":{"labelOrient":"bottom","labelPadding":30,"labelExpr":"'(e) RoBERTa – Chunking'"}}},"spec":{"width":310,"height":202,"mark":{"type":"line","strokeWidth":1.3,"opacity":0.85},"encoding":{"x":{"field":"x","type":"quantitative","title":"Layers","scale":{"domain":[-0.6,12.6],"nice":false,"zero":false},"axis":{"values":[0,2,4,6,8,10,12]}},"y":{"field":"y","type":"quantitative","title":"Neurons","scale":{"domain":[-9,219],"nice":false},"axis":{"values":[0,50,100,150,200]}},"color":{"field":"s","type":"nominal","scale":{"domain":["MRPC","QNLI","Baseline","MNLI","RTE","SST","STS"],"range":["#64a8f5","#6ccf5c","#1a1a1a","#b34a47","#9b33e0","#f4b637","#8b8b23"]},"legend":{"orient":"none","legendX":235,"legendY":4,"title":null}}}}},
{"data":{"name":"d"},"transform":[{"filter":"datum.p=='f'"}],"title":"Distribution of Neurons Across Layers","facet":{"column":{"field":"p","title":null,"header":{"labelOrient":"bottom","labelPadding":30,"labelExpr":"'(f) XLNet – Chunking'"}}},"spec":{"width":310,"height":202,"mark":{"type":"line","strokeWidth":1.3,"opacity":0.85},"encoding":{"x":{"field":"x","type":"quantitative","title":"Layers","scale":{"domain":[-0.6,12.6],"nice":false,"zero":false},"axis":{"values":[0,2,4,6,8,10,12]}},"y":{"field":"y","type":"quantitative","title":"Neurons","scale":{"domain":[-13,280],"nice":false},"axis":{"values":[0,50,100,150,200,250]}},"color":{"field":"s","type":"nominal","scale":{"domain":["MRPC","QNLI","Baseline","MNLI","RTE","SST","STS"],"range":["#64a8f5","#6ccf5c","#1a1a1a","#b34a47","#9b33e0","#f4b637","#8b8b23"]},"legend":{"orient":"none","legendX":232,"legendY":4,"title":null}}}}},
{"data":{"name":"d"},"transform":[{"filter":"datum.p=='g'"}],"title":"Distribution of Neurons Across Layers","facet":{"column":{"field":"p","title":null,"header":{"labelOrient":"bottom","labelPadding":30,"labelExpr":"'(g) BERT – SEM'"}}},"spec":{"width":251,"height":202,"mark":{"type":"line","strokeWidth":1.3,"opacity":0.85},"encoding":{"x":{"field":"x","type":"quantitative","title":"Layers","scale":{"domain":[-0.6,12.6],"nice":false,"zero":false},"axis":{"values":[0,2,4,6,8,10,12]}},"y":{"field":"y","type":"quantitative","title":"Neurons","scale":{"domain":[10.4,67.6],"nice":false,"zero":false},"axis":{"values":[20,30,40,50,60]}},"color":{"field":"s","type":"nominal","scale":{"domain":["MRPC","QNLI","Baseline","MNLI","RTE","SST","STS"],"range":["#64a8f5","#6ccf5c","#1a1a1a","#b34a47","#9b33e0","#f4b637","#8b8b23"]},"legend":{"orient":"none","legendX":176,"legendY":4,"title":null}}}}},
{"data":{"name":"d"},"transform":[{"filter":"datum.p=='h'"}],"title":"Distribution of Neurons Across Layers","facet":{"column":{"field":"p","title":null,"header":{"labelOrient":"bottom","labelPadding":30,"labelExpr":"'(h) RoBERTa – SEM'"}}},"spec":{"width":310,"height":202,"mark":{"type":"line","strokeWidth":1.3,"opacity":0.85},"encoding":{"x":{"field":"x","type":"quantitative","title":"Layers","scale":{"domain":[-0.6,12.6],"nice":false,"zero":false},"axis":{"values":[0,2,4,6,8,10,12]}},"y":{"field":"y","type":"quantitative","title":"Neurons","scale":{"domain":[-1,101],"nice":false},"axis":{"values":[0,20,40,60,80,100]}},"color":{"field":"s","type":"nominal","scale":{"domain":["MRPC","QNLI","Baseline","MNLI","RTE","SST","STS"],"range":["#64a8f5","#6ccf5c","#1a1a1a","#b34a47","#9b33e0","#f4b637","#8b8b23"]},"legend":{"orient":"none","legendX":235,"legendY":4,"title":null}}}}},
{"data":{"name":"d"},"transform":[{"filter":"datum.p=='i'"}],"title":"Distribution of Neurons Across Layers","facet":{"column":{"field":"p","title":null,"header":{"labelOrient":"bottom","labelPadding":30,"labelExpr":"'(i) XLNet – SEM'"}}},"spec":{"width":310,"height":202,"mark":{"type":"line","strokeWidth":1.3,"opacity":0.85},"encoding":{"x":{"field":"x","type":"quantitative","title":"Layers","scale":{"domain":[-0.6,12.6],"nice":false,"zero":false},"axis":{"values":[0,2,4,6,8,10,12]}},"y":{"field":"y","type":"quantitative","title":"Neurons","scale":{"domain":[-8,168],"nice":false},"axis":{"values":[0,20,40,60,80,100,120,140,160]}},"color":{"field":"s","type":"nominal","scale":{"domain":["MRPC","QNLI","Baseline","MNLI","RTE","SST","STS"],"range":["#64a8f5","#6ccf5c","#1a1a1a","#b34a47","#9b33e0","#f4b637","#8b8b23"]},"legend":{"orient":"none","legendX":110,"legendY":4,"title":null}}}}}
]}
